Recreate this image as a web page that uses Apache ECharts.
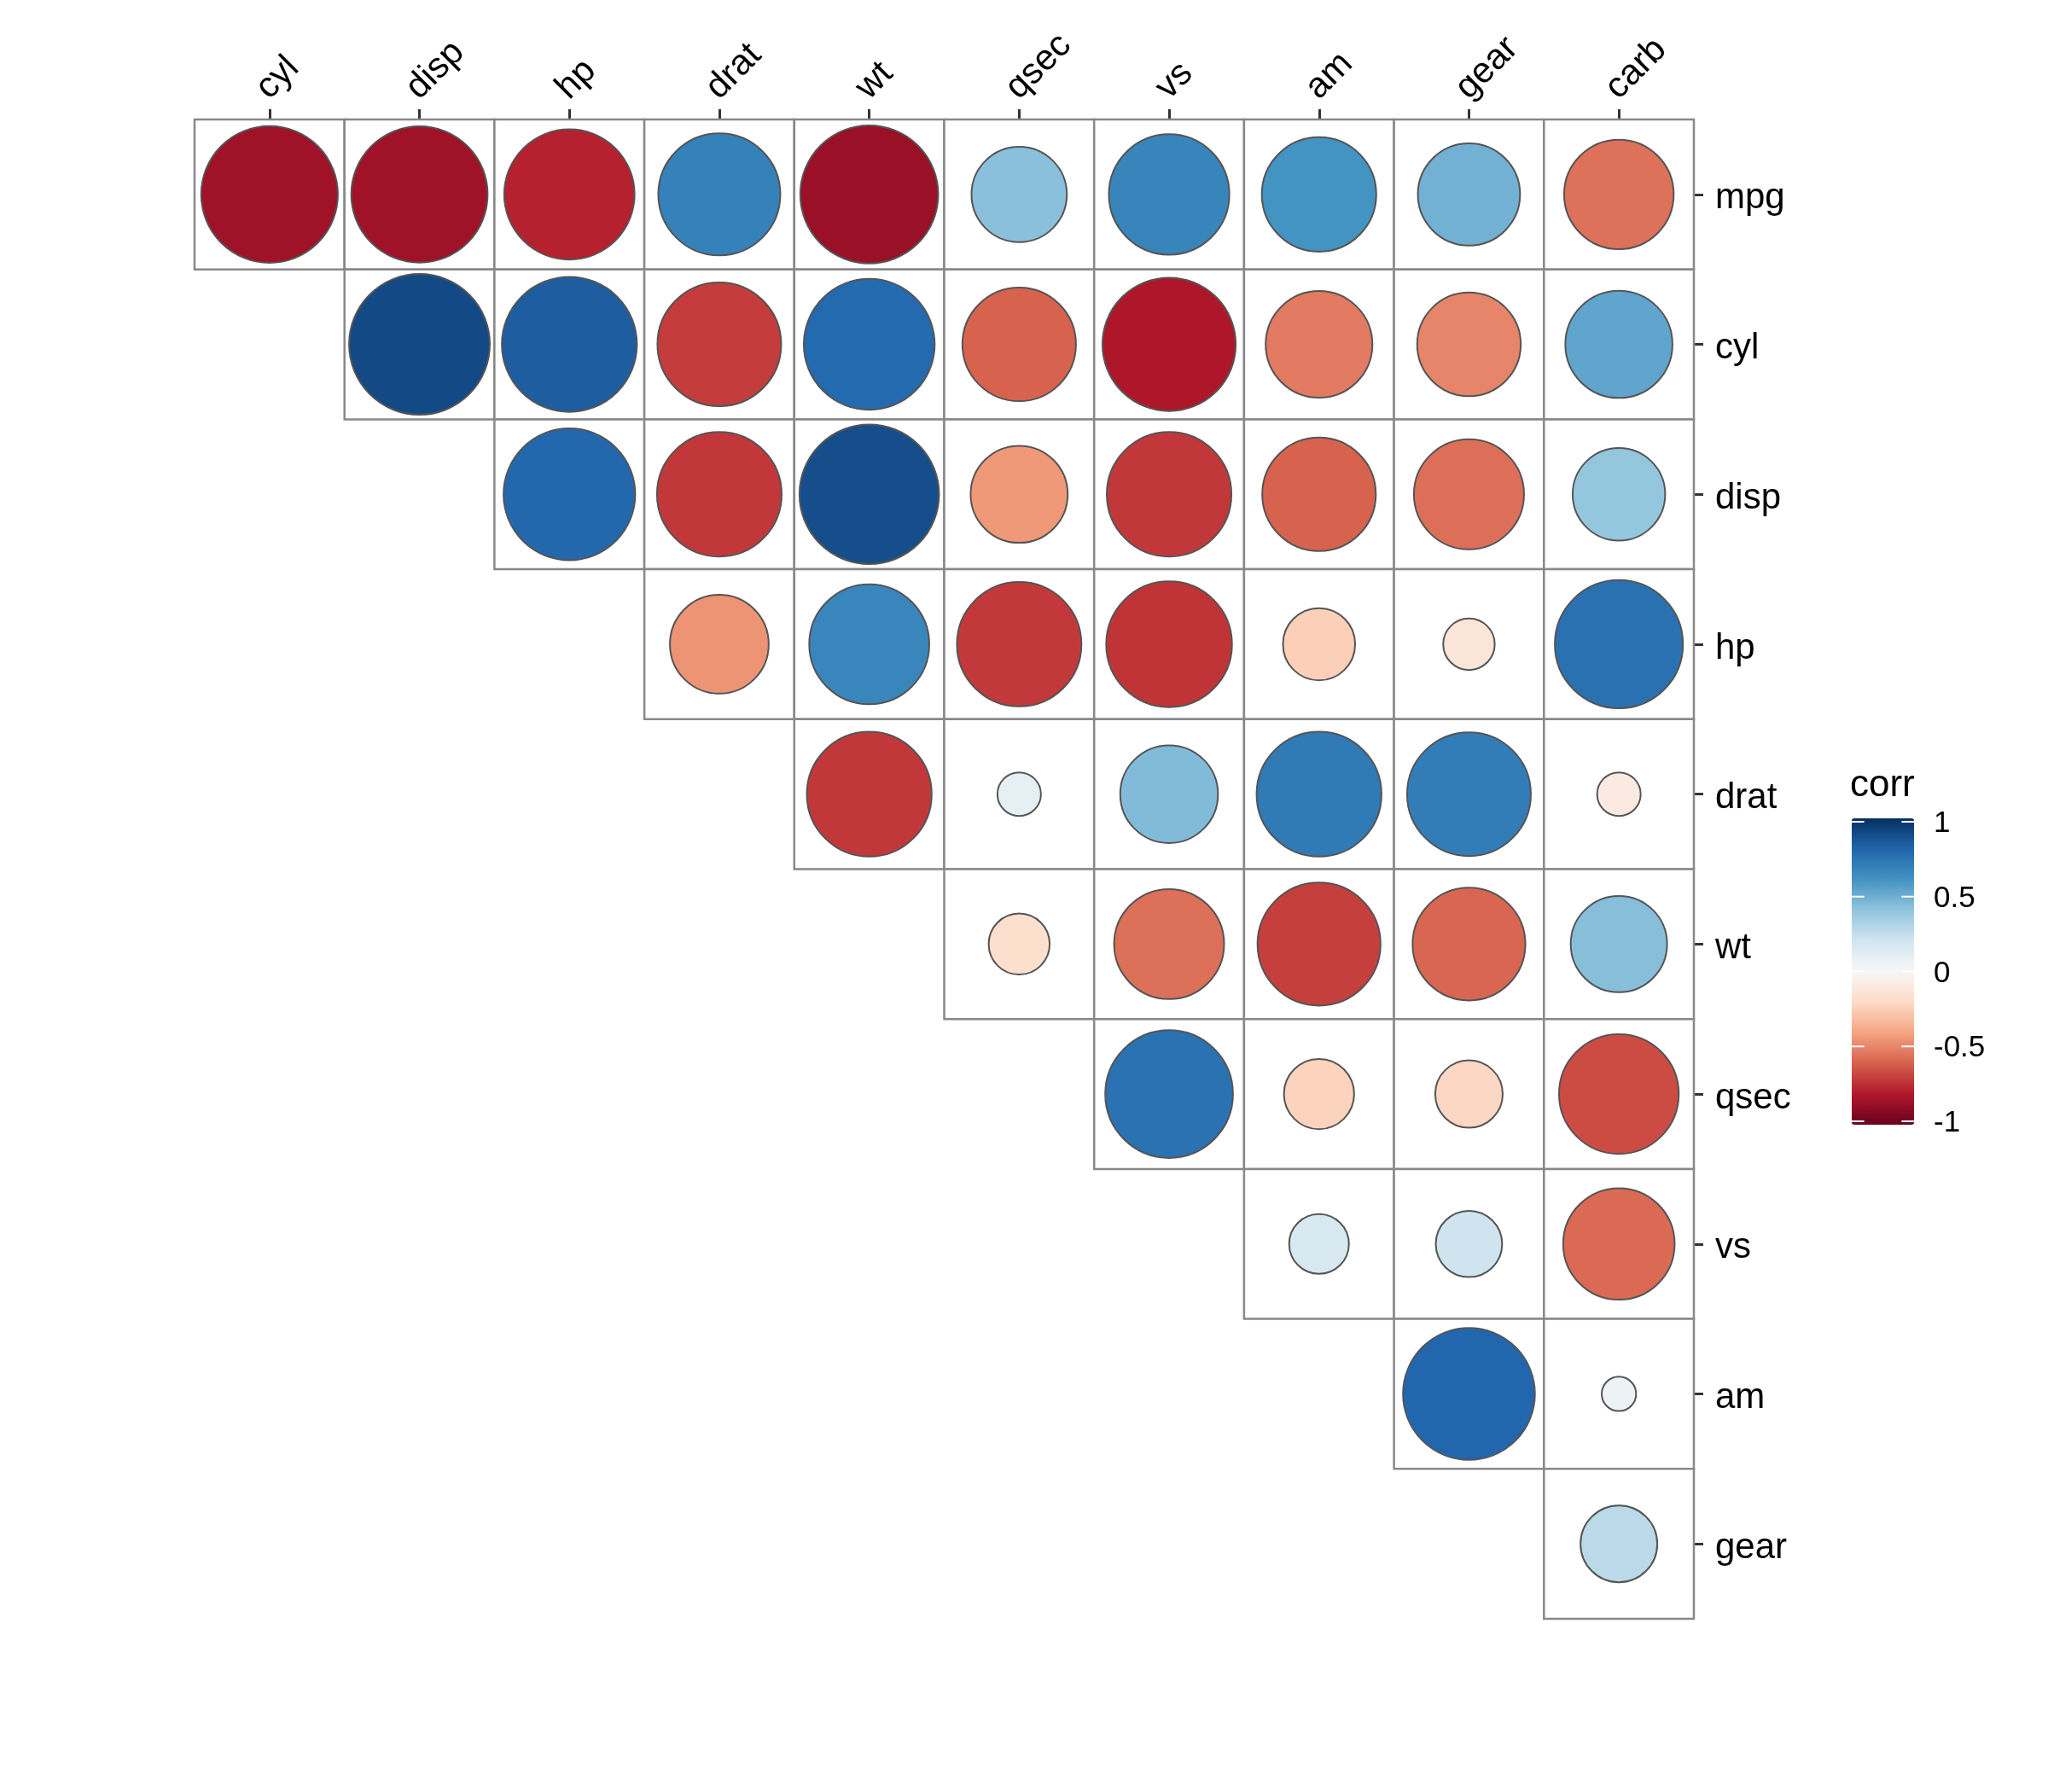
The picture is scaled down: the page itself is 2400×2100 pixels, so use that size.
<!DOCTYPE html>
<html>
<head>
<meta charset="utf-8">
<script src="https://cdn.jsdelivr.net/npm/echarts@6/dist/echarts.min.js"></script>
<style>
html,body{margin:0;padding:0;background:#fff;}
#chart{width:2400px;height:2100px;}
</style>
</head>
<body>
<div id="chart"></div>
<script>
// Column (top axis) and row (right axis) variables
const xCategories = ['cyl', 'disp', 'hp', 'drat', 'wt', 'qsec', 'vs', 'am', 'gear', 'carb'];
const yCategories = ['mpg', 'cyl', 'disp', 'hp', 'drat', 'wt', 'qsec', 'vs', 'am', 'gear'];

// Upper-triangle correlations, each row starting at its first shown column
const corrMpg  = [-0.852, -0.848, -0.776, 0.681, -0.868, 0.419, 0.664, 0.600, 0.480, -0.551];
const corrCyl  = [0.902, 0.832, -0.700, 0.782, -0.591, -0.811, -0.523, -0.493, 0.527];
const corrDisp = [0.791, -0.710, 0.888, -0.434, -0.710, -0.591, -0.556, 0.395];
const corrHp   = [-0.449, 0.659, -0.708, -0.723, -0.243, -0.126, 0.750];
const corrDrat = [-0.712, 0.091, 0.440, 0.713, 0.700, -0.091];
const corrWt   = [-0.175, -0.555, -0.692, -0.583, 0.428];
const corrQsec = [0.745, -0.230, -0.213, -0.656];
const corrVs   = [0.168, 0.206, -0.570];
const corrAm   = [0.794, 0.058];
const corrGear = [0.274];

const legendTicks = [-1, -0.5, 0, 0.5, 1];
const paletteRdBu = ['#67001F', '#B2182B', '#D6604D', '#F4A582', '#FDDBC7', '#F7F7F7',
                     '#D1E5F0', '#92C5DE', '#4393C3', '#2166AC', '#053061'];

const rows = [corrMpg, corrCyl, corrDisp, corrHp, corrDrat, corrWt, corrQsec, corrVs, corrAm, corrGear];
const data = [];
rows.forEach((vals, i) => {
  vals.forEach((v, k) => {
    data.push([xCategories[i + k], yCategories[i], v]);
  });
});

const FONT = '"Liberation Sans", Arial, Helvetica, sans-serif';
const chart = echarts.init(document.getElementById('chart'));

chart.setOption({
  backgroundColor: '#ffffff',
  animation: false,
  textStyle: { fontFamily: FONT },
  title: {
    text: 'corr',
    left: 2168,
    top: 899,
    padding: 0,
    textStyle: { fontFamily: FONT, fontSize: 44, fontWeight: 'normal', color: '#000' }
  },
  grid: [
    { left: 228, top: 140, width: 1757, height: 1757 },
    { left: 2170, top: 963, width: 73, height: 351 }
  ],
  xAxis: [
    {
      gridIndex: 0,
      type: 'category',
      data: xCategories,
      position: 'top',
      axisLine: { show: false },
      axisTick: { show: true, alignWithLabel: true, length: 12, lineStyle: { color: '#333', width: 3 } },
      splitLine: { show: false },
      axisLabel: {
        rotate: -45, margin: 22, color: '#000',
        formatter: v => '{t|' + v + '}',
        rich: { t: { fontSize: 42, fontFamily: FONT, color: '#000', padding: [0, 0, 24, 0] } }
      }
    },
    { gridIndex: 1, type: 'value', show: false, min: 0, max: 1 }
  ],
  yAxis: [
    {
      gridIndex: 0,
      type: 'category',
      data: yCategories,
      inverse: true,
      position: 'right',
      axisLine: { show: false },
      axisTick: { show: true, alignWithLabel: true, length: 11, lineStyle: { color: '#333', width: 3 } },
      splitLine: { show: false },
      axisLabel: {
        margin: 25, color: '#000',
        formatter: v => '{t|' + v + '}',
        rich: { t: { fontSize: 42, fontFamily: FONT, color: '#000', padding: [10, 0, 0, 0] } }
      }
    },
    {
      gridIndex: 1,
      type: 'value',
      min: -1, max: 1, interval: 0.5,
      position: 'right',
      axisLine: { show: false },
      splitLine: { show: false },
      axisTick: { show: false },
      axisLabel: {
        margin: 23, color: '#000',
        formatter: v => (legendTicks.indexOf(v) >= 0 ? '{t|' + v + '}' : ''),
        rich: { t: { fontSize: 35, fontFamily: FONT, color: '#000', padding: [5, 0, 0, 0] } }
      }
    }
  ],
  visualMap: {
    type: 'continuous',
    seriesIndex: 1,
    dimension: 2,
    min: -1,
    max: 1,
    calculable: false,
    hoverLink: false,
    orient: 'vertical',
    left: 2170,
    top: 959,
    padding: 0,
    itemWidth: 73,
    itemHeight: 359,
    text: null,
    showLabel: false,
    inRange: { color: paletteRdBu }
  },
  series: [
    {
      type: 'custom',
      xAxisIndex: 0,
      yAxisIndex: 0,
      data: data,
      renderItem: function (params, api) {
        const c = api.coord([api.value(0), api.value(1)]);
        const s = api.size([1, 1]);
        return {
          type: 'rect',
          shape: { x: c[0] - s[0] / 2, y: c[1] - s[1] / 2, width: s[0], height: s[1] },
          style: { fill: '#ffffff', stroke: '#888888', lineWidth: 2.5 }
        };
      }
    },
    {
      type: 'custom',
      xAxisIndex: 0,
      yAxisIndex: 0,
      data: data,
      renderItem: function (params, api) {
        const c = api.coord([api.value(0), api.value(1)]);
        const s = api.size([1, 1]);
        const r = (s[0] / 2) * Math.sqrt(Math.abs(api.value(2))) - 1;
        return {
          type: 'circle',
          shape: { cx: c[0], cy: c[1], r: r },
          style: { fill: api.visual('color'), stroke: '#555555', lineWidth: 2 }
        };
      }
    },
    {
      // white tick marks inside the colour bar
      type: 'custom',
      xAxisIndex: 1,
      yAxisIndex: 1,
      z: 20,
      data: legendTicks.map(v => [v]),
      renderItem: function (params, api) {
        const v = api.value(0);
        const pL = api.coord([0, v]);
        const pR = api.coord([1, v]);
        const w = (pR[0] - pL[0]) / 5;
        const y = pL[1];
        return {
          type: 'group',
          children: [
            { type: 'line', shape: { x1: pL[0], y1: y, x2: pL[0] + w, y2: y }, style: { stroke: '#fff', lineWidth: 2 } },
            { type: 'line', shape: { x1: pR[0] - w, y1: y, x2: pR[0], y2: y }, style: { stroke: '#fff', lineWidth: 2 } }
          ]
        };
      }
    }
  ]
});
</script>
</body>
</html>
